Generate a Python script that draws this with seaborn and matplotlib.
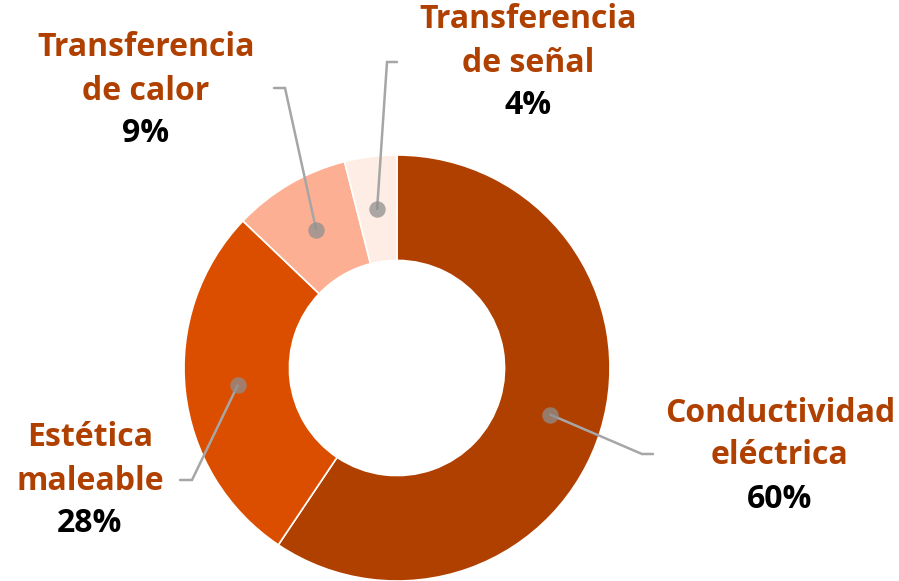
import numpy as np
import matplotlib
matplotlib.use("Agg")
import matplotlib.pyplot as plt
import seaborn as sns

# ---- data ----
categories = ["Conductividad\neléctrica", "Estética\nmaleable", "Transferencia\nde calor", "Transferencia\nde señal"]
values = [60, 28, 9, 4]
pct_labels = ["60%", "28%", "9%", "4%"]
colors = ["#B04000", "#DB4E00", "#FDAF93", "#FDEDE4"]

sns.set_theme(style="white")
plt.rcParams['font.family'] = ['Open Sans', 'DejaVu Sans']

W, H = 899, 581
fig = plt.figure(figsize=(W / 100, H / 100), dpi=100)
ax = fig.add_axes([0, 0, 1, 1])

cx, cy = 397, H - 368
R = 213
width = 0.495

wedges, _ = ax.pie(values, colors=colors, startangle=90, counterclock=False,
                   radius=R, center=(cx, cy),
                   wedgeprops=dict(width=R * width, edgecolor="white", linewidth=1.2))
ax.set_xlim(0, W)
ax.set_ylim(0, H)
ax.set_aspect("equal")
ax.axis("off")

# label layout (pixel coords, y from top): elbow point, line end, text center x, first line y
layout = [
    dict(elbow=(642, 454), end=(653, 454), tx=780, ty=413),
    dict(elbow=(192, 480), end=(180, 480), tx=90, ty=438),
    dict(elbow=(285, 88), end=(274, 88), tx=146, ty=48),
    dict(elbow=(387, 62), end=(397, 62), tx=528, ty=20),
]
line_gap = 43
text_color = "#B04000"
lead_color = "#A6A6A6"
fs = 23

mid_r = R * (1 - width / 2)
for w, cat, pct, lay in zip(wedges, categories, pct_labels, layout):
    ang = np.deg2rad((w.theta1 + w.theta2) / 2)
    dx, dy = cx + mid_r * np.cos(ang), cy + mid_r * np.sin(ang)
    ex, ey = lay["elbow"]
    nx, ny = lay["end"]
    ax.plot([dx, ex, nx], [dy, H - ey, H - ny], color=lead_color, lw=1.8,
            solid_joinstyle="miter", zorder=3)
    ax.scatter([dx], [dy], s=140, color="#8f8f8f", alpha=0.75, zorder=4, linewidths=0)
    lines = cat.split("\n")
    for i, ln in enumerate(lines):
        ax.text(lay["tx"], H - (lay["ty"] + i * line_gap), ln, ha="center", va="center",
                fontsize=fs, fontweight="bold", color=text_color)
    ax.text(lay["tx"], H - (lay["ty"] + len(lines) * line_gap), pct, ha="center", va="center",
            fontsize=fs, fontweight="bold", color="black")

fig.savefig("out.png", dpi=100)
